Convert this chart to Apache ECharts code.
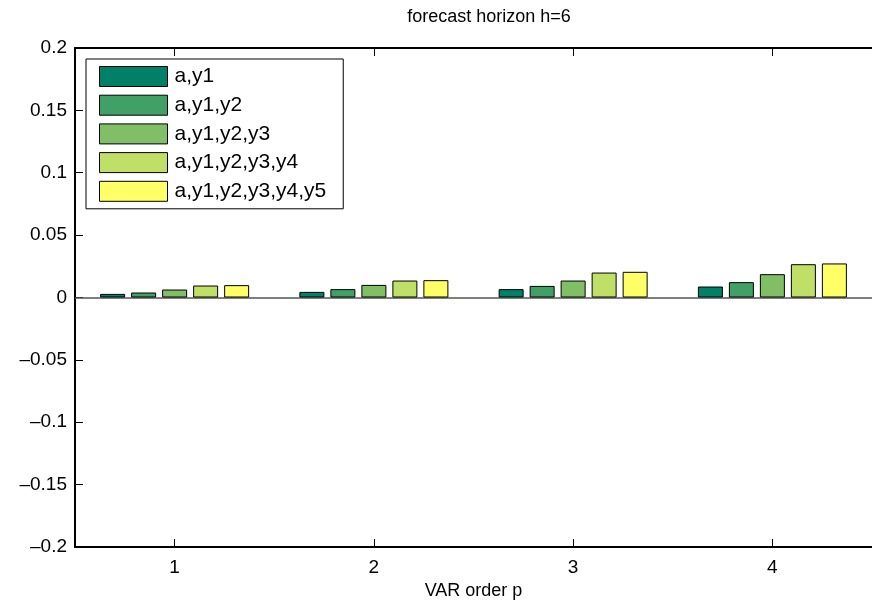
<!DOCTYPE html>
<html>
<head>
<meta charset="utf-8">
<script src="https://cdn.jsdelivr.net/npm/echarts@6/dist/echarts.min.js"></script>
<style>
  html, body { margin: 0; padding: 0; background: #fff; }
  #chart { width: 872px; height: 610px; }
</style>
</head>
<body>
<div id="chart"></div>
<script>
// VAR order categories on the x axis
const categories = ['1', '2', '3', '4'];

// Conditioning sets, one bar series each
const seriesNames = ['a,y1', 'a,y1,y2', 'a,y1,y2,y3', 'a,y1,y2,y3,y4', 'a,y1,y2,y3,y4,y5'];

// Values per VAR order p = 1..4
const valsY1 = [0.0029, 0.0045, 0.0067, 0.0088];
const valsY2 = [0.0040, 0.0067, 0.0093, 0.0123];
const valsY3 = [0.0064, 0.0101, 0.0136, 0.0187];
const valsY4 = [0.0096, 0.0136, 0.0200, 0.0267];
const valsY5 = [0.0099, 0.0139, 0.0206, 0.0273];

// y tick labels from 0.2 down to -0.2
const yTickValues = [0.2, 0.15, 0.1, 0.05, 0, -0.05, -0.1, -0.15, -0.2];
const yTickLabels = ['0.2', '0.15', '0.1', '0.05', '0', '\u20130.05', '\u20130.1', '\u20130.15', '\u20130.2'];

// summer colormap
const colors = ['#008066', '#40A066', '#80BF66', '#BFDF66', '#FFFF66'];

const allValues = [valsY1, valsY2, valsY3, valsY4, valsY5];
const FONT = '"Liberation Sans", Arial, Helvetica, sans-serif';

function yLabel(v) {
  for (let i = 0; i < yTickValues.length; i++) {
    if (Math.abs(yTickValues[i] - v) < 1e-9) return yTickLabels[i];
  }
  return '';
}

const series = seriesNames.map((name, i) => {
  const s = {
    name: name,
    type: 'bar',
    data: allValues[i],
    barWidth: 25,
    barGap: '24%',
    itemStyle: { color: colors[i], borderColor: '#000', borderWidth: 1 },
    emphasis: { disabled: true }
  };
  if (i === 0) {
    // baseline at zero
    s.markLine = {
      silent: true,
      symbol: 'none',
      label: { show: false },
      lineStyle: { color: '#555', width: 1.5, type: 'solid' },
      data: [{ yAxis: 0 }],
      z: 1
    };
  }
  return s;
});

const chart = echarts.init(document.getElementById('chart'), null, { renderer: 'canvas' });
chart.setOption({
  animation: false,
  backgroundColor: '#fff',
  title: {
    text: 'forecast horizon h=6',
    left: 489,
    top: 8,
    textAlign: 'center',
    padding: 0,
    textStyle: { fontFamily: FONT, fontSize: 18, fontWeight: 'normal', color: '#000' }
  },
  legend: {
    orient: 'vertical',
    left: 86,
    top: 59,
    padding: [7, 17, 7, 13],
    itemWidth: 68,
    itemHeight: 20,
    itemGap: 7.7,
    backgroundColor: '#fff',
    borderColor: '#000',
    borderWidth: 1,
    borderRadius: 0,
    icon: 'rect',
    selectedMode: false,
    itemStyle: { borderColor: '#000', borderWidth: 1 },
    textStyle: { fontFamily: FONT, fontSize: 21, color: '#000', padding: [0, 0, 0, 2] },
    data: seriesNames
  },
  grid: { left: 75, top: 48, width: 800, height: 499, containLabel: false },
  xAxis: [
    {
      type: 'category',
      data: categories,
      position: 'bottom',
      boundaryGap: true,
      name: 'VAR order p',
      nameLocation: 'middle',
      nameGap: 35,
      nameTextStyle: { fontFamily: FONT, fontSize: 18, color: '#000' },
      axisLine: { show: true, onZero: false, lineStyle: { color: '#000', width: 2 } },
      axisTick: { show: true, inside: true, alignWithLabel: true, length: 8, lineStyle: { color: '#000', width: 1 } },
      axisLabel: { fontFamily: FONT, fontSize: 19, color: '#000', margin: 11 },
      splitLine: { show: false }
    },
    {
      type: 'category',
      data: categories,
      position: 'top',
      boundaryGap: true,
      axisLine: { show: true, onZero: false, lineStyle: { color: '#000', width: 2 } },
      axisTick: { show: true, inside: true, alignWithLabel: true, length: 8, lineStyle: { color: '#000', width: 1 } },
      axisLabel: { show: false },
      splitLine: { show: false }
    }
  ],
  yAxis: {
    type: 'value',
    min: -0.2,
    max: 0.2,
    interval: 0.05,
    axisLine: { show: true, onZero: false, lineStyle: { color: '#000', width: 2 } },
    axisTick: { show: true, inside: true, length: 8, lineStyle: { color: '#000', width: 1 } },
    axisLabel: { fontFamily: FONT, fontSize: 19, color: '#000', margin: 8, formatter: yLabel },
    splitLine: { show: false }
  },
  series: series
});
</script>
</body>
</html>
